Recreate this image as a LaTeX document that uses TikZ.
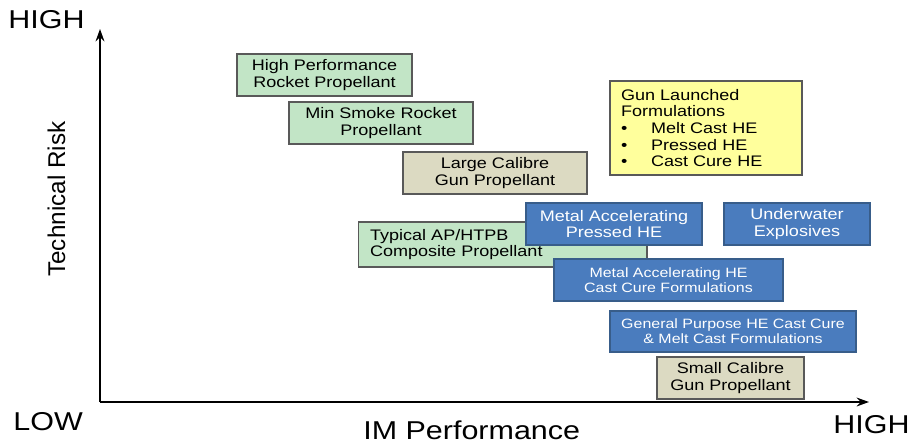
\documentclass[tikz,border=0pt]{standalone}
\usepackage{fontspec}
\setmainfont{Liberation Sans}[FakeStretch=1.18]
\newfontfamily\uprightsans{Liberation Sans}
\usetikzlibrary{arrows.meta}

\definecolor{boxgreen}{RGB}{194,229,198}
\definecolor{boxtan}{RGB}{220,218,194}
\definecolor{boxyellow}{RGB}{255,255,156}
\definecolor{boxblue}{RGB}{74,124,190}
\definecolor{blueedge}{RGB}{56,93,138}

\begin{document}
\begin{tikzpicture}[x=0.02cm, y=-0.02cm,
    riskbox/.style={draw=black!65, line width=0.6pt, inner sep=0pt, align=center,
        font=\fontsize{8.7}{9.5}\selectfont},
    greenbox/.style={riskbox, fill=boxgreen},
    tanbox/.style={riskbox, fill=boxtan},
    yellowbox/.style={riskbox, fill=boxyellow},
    bluebox/.style={riskbox, fill=boxblue, draw=blueedge, line width=0.8pt, text=white},
    smalltext/.style={font=\fontsize{7.7}{8.5}\selectfont},
    axislabel/.style={inner sep=0pt, anchor=base west, font=\fontsize{14.7}{16}\selectfont}]

    \useasboundingbox (0, 0) rectangle (913, 443);

    % axes
    \coordinate (origin) at (100, 402);
    \coordinate (ytop) at (100, 29);
    \coordinate (xend) at (869, 402);
    \draw [-{Stealth[length=7pt, width=5pt]}, line width=1.1pt] (origin) -- (ytop);
    \draw [-{Stealth[length=7pt, width=5pt]}, line width=1.1pt] (origin) -- (xend);

    \node [axislabel] (yhigh) at (8, 28) {HIGH};
    \node [axislabel] (xlow) at (13, 430) {LOW};
    \node [axislabel] (xhigh) at (833, 433) {HIGH};
    \node [axislabel] (xtitle) at (363, 439) {IM Performance};
    \node [axislabel, rotate=90, font=\uprightsans\fontsize{13.8}{16}\selectfont] (ytitle) at (65, 277) {Technical Risk};

    % propellants
    \node [greenbox, minimum width=3.5cm, minimum height=0.84cm] (hprp) at (324.5, 75) {High Performance\\Rocket Propellant};
    \node [greenbox, minimum width=3.68cm, minimum height=0.84cm] (minsmoke) at (381, 123) {Min Smoke Rocket\\Propellant};
    \node [tanbox, minimum width=3.68cm, minimum height=0.84cm] (largecal) at (495, 173) {Large Calibre\\Gun Propellant};
    \node [yellowbox, align=left, inner xsep=0.22cm, text width=3.4cm, minimum height=1.88cm] (gunlaunch) at (706, 128)
        {Gun Launched\\Formulations\\
         \makebox[0.6cm][l]{\textbullet}Melt Cast HE\\
         \makebox[0.6cm][l]{\textbullet}Pressed HE\\
         \makebox[0.6cm][l]{\textbullet}Cast Cure HE};
    \node [greenbox, align=left, inner xsep=0.24cm, text width=5.3cm, minimum height=0.9cm] (typical) at (502.5, 244.5) {Typical AP/HTPB\\Composite Propellant};

    % explosives
    \node [bluebox, minimum width=3.52cm, minimum height=0.84cm] (mapressed) at (614, 224) {Metal Accelerating\\Pressed HE};
    \node [bluebox, minimum width=2.92cm, minimum height=0.84cm] (underwater) at (797, 224) {Underwater\\Explosives};
    \node [bluebox, smalltext, minimum width=4.58cm, minimum height=0.84cm] (macastcure) at (668.5, 280) {Metal Accelerating HE\\Cast Cure Formulations};
    \node [bluebox, smalltext, minimum width=4.92cm, minimum height=0.82cm] (genpurpose) at (733, 331.5) {General Purpose HE Cast Cure\\\& Melt Cast Formulations};
    \node [tanbox, minimum width=2.94cm, minimum height=0.84cm] (smallcal) at (730.5, 378) {Small Calibre\\Gun Propellant};

\end{tikzpicture}
\end{document}
